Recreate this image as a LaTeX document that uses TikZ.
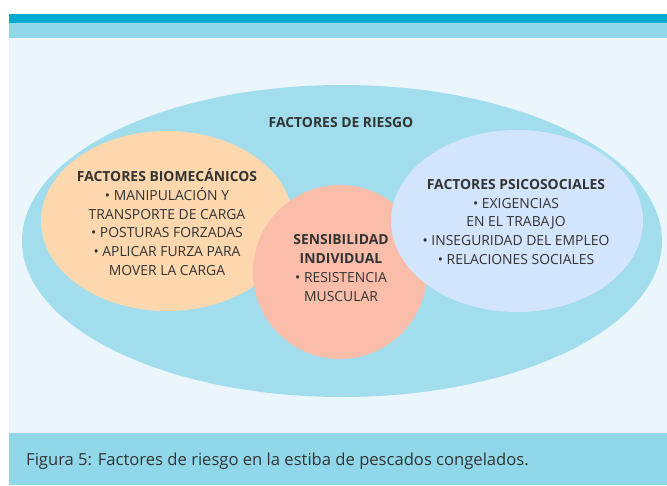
\documentclass[tikz,border=0pt]{standalone}
\usepackage{fontspec}
\setmainfont{Open Sans}
\usepackage{xcolor}
\definecolor{topband}{HTML}{00ABCF}
\definecolor{lightband}{HTML}{90D7EA}
\definecolor{panel}{HTML}{EAF6FC}
\definecolor{riesgo}{HTML}{A2DDED}
\definecolor{biomec}{HTML}{FDD7AE}
\definecolor{sensib}{HTML}{F9BDA9}
\definecolor{psico}{HTML}{D3E4FD}
\definecolor{textgray}{HTML}{333333}

\begin{document}
\begin{tikzpicture}[x=1pt, y=-1pt,
  txt/.style = {text=textgray, align=center, inner sep=0, font=\fontsize{13.9}{18.7}\selectfont}]
 \useasboundingbox (0, 0) rectangle (667, 485);
 \fill[white] (0, 0) rectangle (667, 485);
 \fill[topband] (9, 14) rectangle (667, 23);
 \fill[lightband] (9, 23) rectangle (667, 38);
 \fill[panel] (9, 38) rectangle (667, 433);
 \fill[lightband] (9, 433) rectangle (667, 485);
 \fill[riesgo] (342, 241) ellipse [x radius = 320pt, y radius = 156pt];
 \fill[biomec] (167, 221) ellipse [x radius = 126pt, y radius = 90pt];
 \fill[sensib] (340, 272) circle [radius = 87pt];
 \fill[psico] (517, 221) ellipse [x radius = 126pt, y radius = 91pt];
 \node[txt, font = \fontsize{13.9}{18.7}\selectfont\bfseries] (riesgotxt) at (341, 123) {FACTORES DE RIESGO};
 \node[txt] (biomectxt) at (167, 222) {{\bfseries FACTORES BIOMECÁNICOS}\\• MANIPULACIÓN Y\\TRANSPORTE DE CARGA\\• POSTURAS FORZADAS\\• APLICAR FURZA PARA\\MOVER LA CARGA};
 \node[txt] (sensibtxt) at (341, 268) {{\bfseries SENSIBILIDAD}\\{\bfseries INDIVIDUAL}\\• RESISTENCIA\\MUSCULAR};
 \node[txt] (psicotxt) at (516, 222) {{\bfseries FACTORES PSICOSOCIALES}\\• EXIGENCIAS\\EN EL TRABAJO\\• INSEGURIDAD DEL EMPLEO\\• RELACIONES SOCIALES};
 \node[txt, anchor = west, font = \fontsize{16.6}{18}\selectfont] (caption) at (26, 461) {Figura 5: Factores de riesgo en la estiba de pescados congelados.};
\end{tikzpicture}
\end{document}
